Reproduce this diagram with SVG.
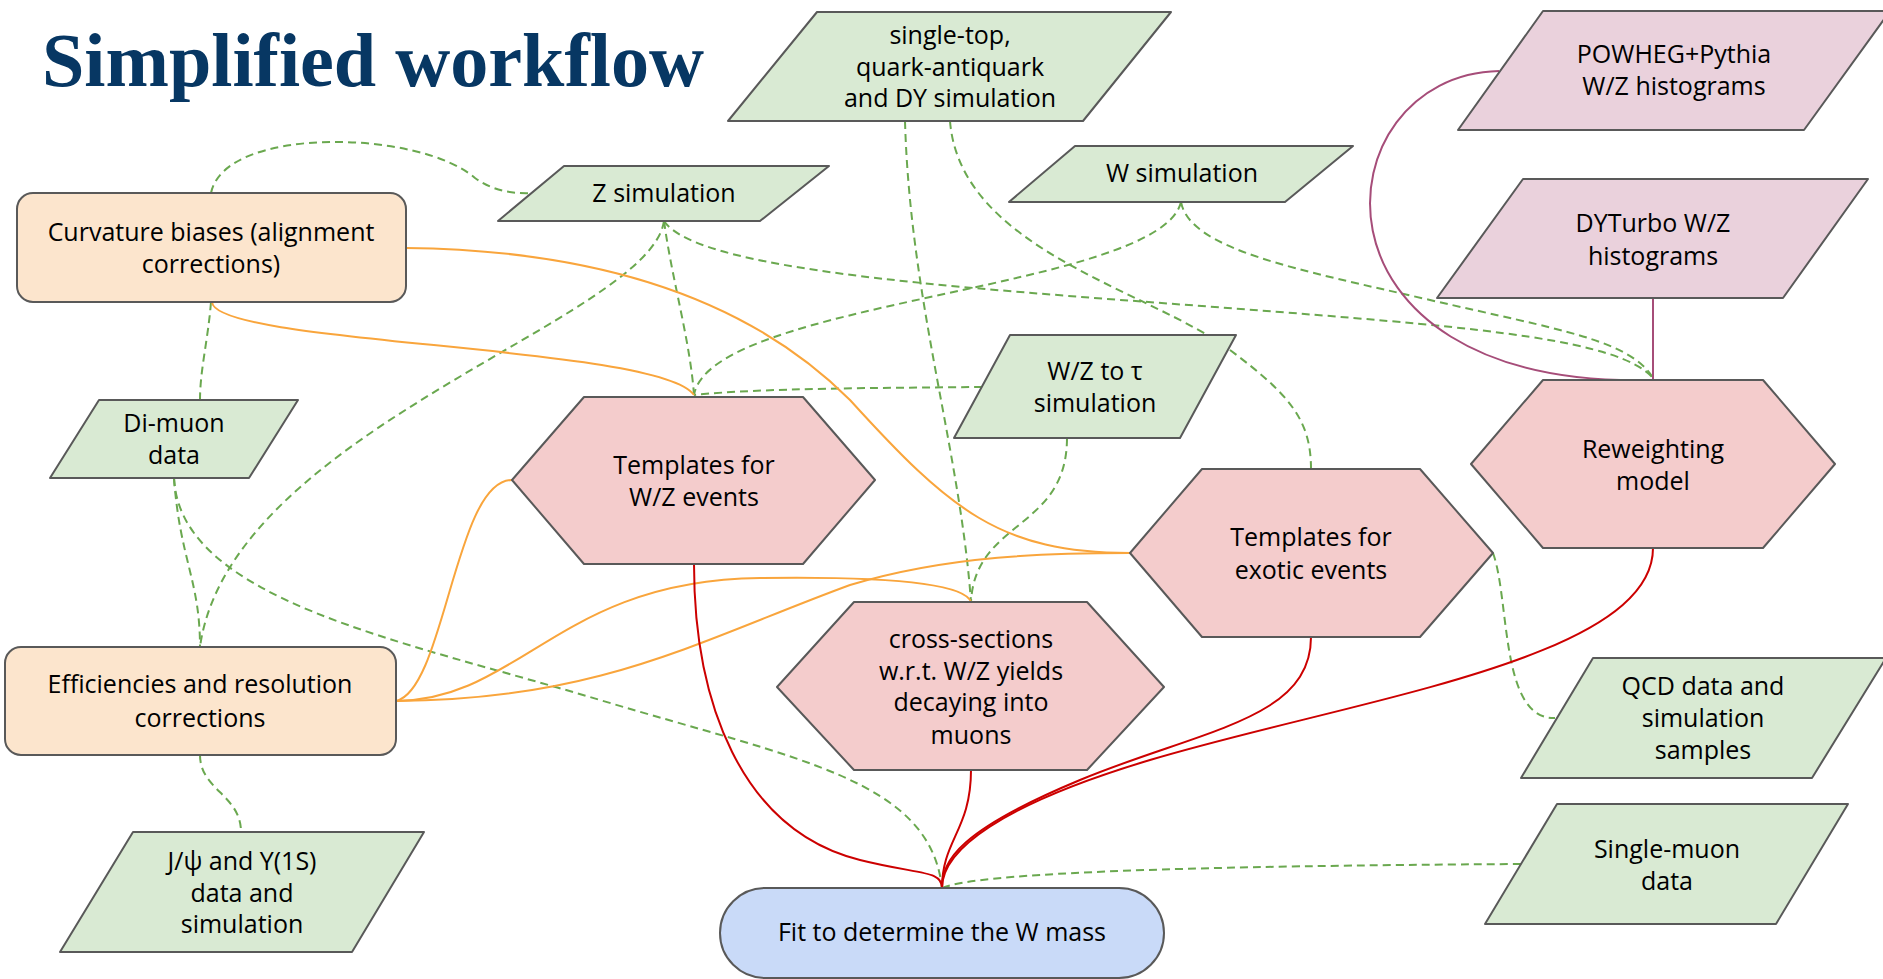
<svg xmlns="http://www.w3.org/2000/svg" width="1883" height="979" viewBox="0 0 1883 979">
<style>
.n{stroke:#595959;stroke-width:2;stroke-linejoin:round}
.g{fill:#d9ead3}.p{fill:#f4cccc}.m{fill:#ead1dc}.o{fill:#fce5cd}.b{fill:#c9daf8}
.t{font-family:"Open Sans","Noto Sans","Liberation Sans",sans-serif;font-size:25px;fill:#000;text-anchor:middle}
.dg{fill:none;stroke:#6aa84f;stroke-width:2;stroke-dasharray:8 5}
.or{fill:none;stroke:#f9a53c;stroke-width:2}
.rd{fill:none;stroke:#cc0000;stroke-width:2}
.pu{fill:none;stroke:#a64d79;stroke-width:2}
</style>
<rect width="1883" height="979" fill="#fff"/>
<text x="42" y="86" font-family="'Liberation Serif',serif" font-weight="bold" font-size="76" fill="#073763" textLength="662" lengthAdjust="spacingAndGlyphs">Simplified workflow</text>
<g id="connectors">
<path class="dg" d="M211 193 C225 125 420 130 475 178 C495 192 515 194 534 193"/>
<path class="dg" d="M211 302 C208 340 200 370 200 400"/>
<path class="dg" d="M664 221 C672 280 690 340 694 395"/>
<path class="dg" d="M664 221 C650 320 230 430 200 647"/>
<path class="dg" d="M664 221 C700 275 1000 290 1280 312 C1480 328 1620 340 1653 378"/>
<path class="dg" d="M1181 202 C1190 250 1300 270 1430 300 C1560 330 1630 340 1653 378"/>
<path class="dg" d="M1181 202 C1160 290 710 300 694 395"/>
<path class="dg" d="M982 387 C880 388 760 388 694 395"/>
<path class="dg" d="M905 121 C910 300 960 450 971 602"/>
<path class="dg" d="M950 121 C960 250 1150 290 1230 350 C1290 395 1311 420 1311 469"/>
<path class="dg" d="M1067 438 C1067 530 975 520 971 602"/>
<path class="dg" d="M174 478 C180 560 200 580 200 647"/>
<path class="dg" d="M174 478 C180 600 400 640 600 700 C800 760 930 780 942 888"/>
<path class="dg" d="M200 755 C200 790 241 795 241 832"/>
<path class="dg" d="M1493 553 C1510 600 1500 720 1555 718"/>
<path class="dg" d="M1521 864 C1200 866 980 872 942 888"/>
<path class="or" d="M406 248 C600 250 750 300 850 400 C950 510 1000 553 1130 553"/>
<path class="or" d="M212 302 C215 345 660 345 694 395"/>
<path class="or" d="M396 701 C445 690 455 480 512 480"/>
<path class="or" d="M396 701 C520 700 560 580 760 578 C900 576 965 585 971 602"/>
<path class="or" d="M396 701 C600 700 700 640 850 585 C950 555 1050 553 1130 553"/>
<path class="rd" d="M694 564 C694 700 740 830 860 860 C920 875 942 870 942 888"/>
<path class="rd" d="M971 770 C971 830 942 840 942 888"/>
<path class="rd" d="M1311 637 C1311 720 1200 730 1080 780 C960 830 942 860 942 888"/>
<path class="rd" d="M1653 548 C1653 660 1350 700 1150 760 C1000 805 942 850 942 888"/>
<path class="pu" d="M1499 71 C1320 75 1290 390 1653 380"/>
<path class="pu" d="M1653 298 L1653 380"/>
</g>
<g id="single-top"><polygon class="n g" points="817,12 1171,12 1083,121 728,121"/>
<text class="t" x="950" y="44">single-top,</text><text class="t" x="950" y="76">quark-antiquark</text><text class="t" x="950" y="107">and DY simulation</text></g>
<g id="powheg"><polygon class="n m" points="1543,11 1890,11 1804,130 1458,130"/>
<text class="t" x="1674" y="63">POWHEG+Pythia</text><text class="t" x="1674" y="95">W/Z histograms</text></g>
<g id="dyturbo"><polygon class="n m" points="1523,179 1868,179 1783,298 1437,298"/>
<text class="t" x="1653" y="232">DYTurbo W/Z</text><text class="t" x="1653" y="265">histograms</text></g>
<g id="z-sim"><polygon class="n g" points="564,166 829,166 760,221 498,221"/>
<text class="t" x="664" y="202">Z simulation</text></g>
<g id="w-sim"><polygon class="n g" points="1075,146 1353,146 1285,202 1009,202"/>
<text class="t" x="1182" y="182">W simulation</text></g>
<g id="curvature"><rect class="n o" x="17" y="193" width="389" height="109" rx="16"/>
<text class="t" x="211" y="241">Curvature biases (alignment</text><text class="t" x="211" y="273">corrections)</text></g>
<g id="dimuon"><polygon class="n g" points="99,400 298,400 249,478 50,478"/>
<text class="t" x="174" y="432">Di-muon</text><text class="t" x="174" y="464">data</text></g>
<g id="templates-wz"><polygon class="n p" points="512,480 584,397 803,397 875,480 803,564 584,564"/>
<text class="t" x="694" y="474">Templates for</text><text class="t" x="694" y="506">W/Z events</text></g>
<g id="wz-tau"><polygon class="n g" points="1010,335 1236,335 1180,438 954,438"/>
<text class="t" x="1095" y="380">W/Z to τ</text><text class="t" x="1095" y="412">simulation</text></g>
<g id="reweighting"><polygon class="n p" points="1471,464 1543,380 1763,380 1835,464 1763,548 1543,548"/>
<text class="t" x="1653" y="458">Reweighting</text><text class="t" x="1653" y="490">model</text></g>
<g id="templates-exotic"><polygon class="n p" points="1130,553 1202,469 1420,469 1493,553 1420,637 1202,637"/>
<text class="t" x="1311" y="546">Templates for</text><text class="t" x="1311" y="579">exotic events</text></g>
<g id="cross-sections"><polygon class="n p" points="777,687 854,602 1087,602 1164,687 1087,770 854,770"/>
<text class="t" x="971" y="648">cross-sections</text><text class="t" x="971" y="680">w.r.t. W/Z yields</text><text class="t" x="971" y="711">decaying into</text><text class="t" x="971" y="744">muons</text></g>
<g id="qcd"><polygon class="n g" points="1593,658 1886,658 1812,778 1521,778"/>
<text class="t" x="1703" y="695">QCD data and</text><text class="t" x="1703" y="727">simulation</text><text class="t" x="1703" y="759">samples</text></g>
<g id="efficiencies"><rect class="n o" x="5" y="647" width="391" height="108" rx="16"/>
<text class="t" x="200" y="693">Efficiencies and resolution</text><text class="t" x="200" y="727">corrections</text></g>
<g id="jpsi"><polygon class="n g" points="133,832 424,832 352,952 60,952"/>
<text class="t" x="242" y="870">J/ψ and Υ(1S)</text><text class="t" x="242" y="902">data and</text><text class="t" x="242" y="933">simulation</text></g>
<g id="single-muon"><polygon class="n g" points="1557,804 1848,804 1776,924 1485,924"/>
<text class="t" x="1667" y="858">Single-muon</text><text class="t" x="1667" y="890">data</text></g>
<g id="fit"><rect class="n b" x="720" y="888" width="444" height="90" rx="45"/>
<text class="t" x="942" y="941">Fit to determine the W mass</text></g>
</svg>
